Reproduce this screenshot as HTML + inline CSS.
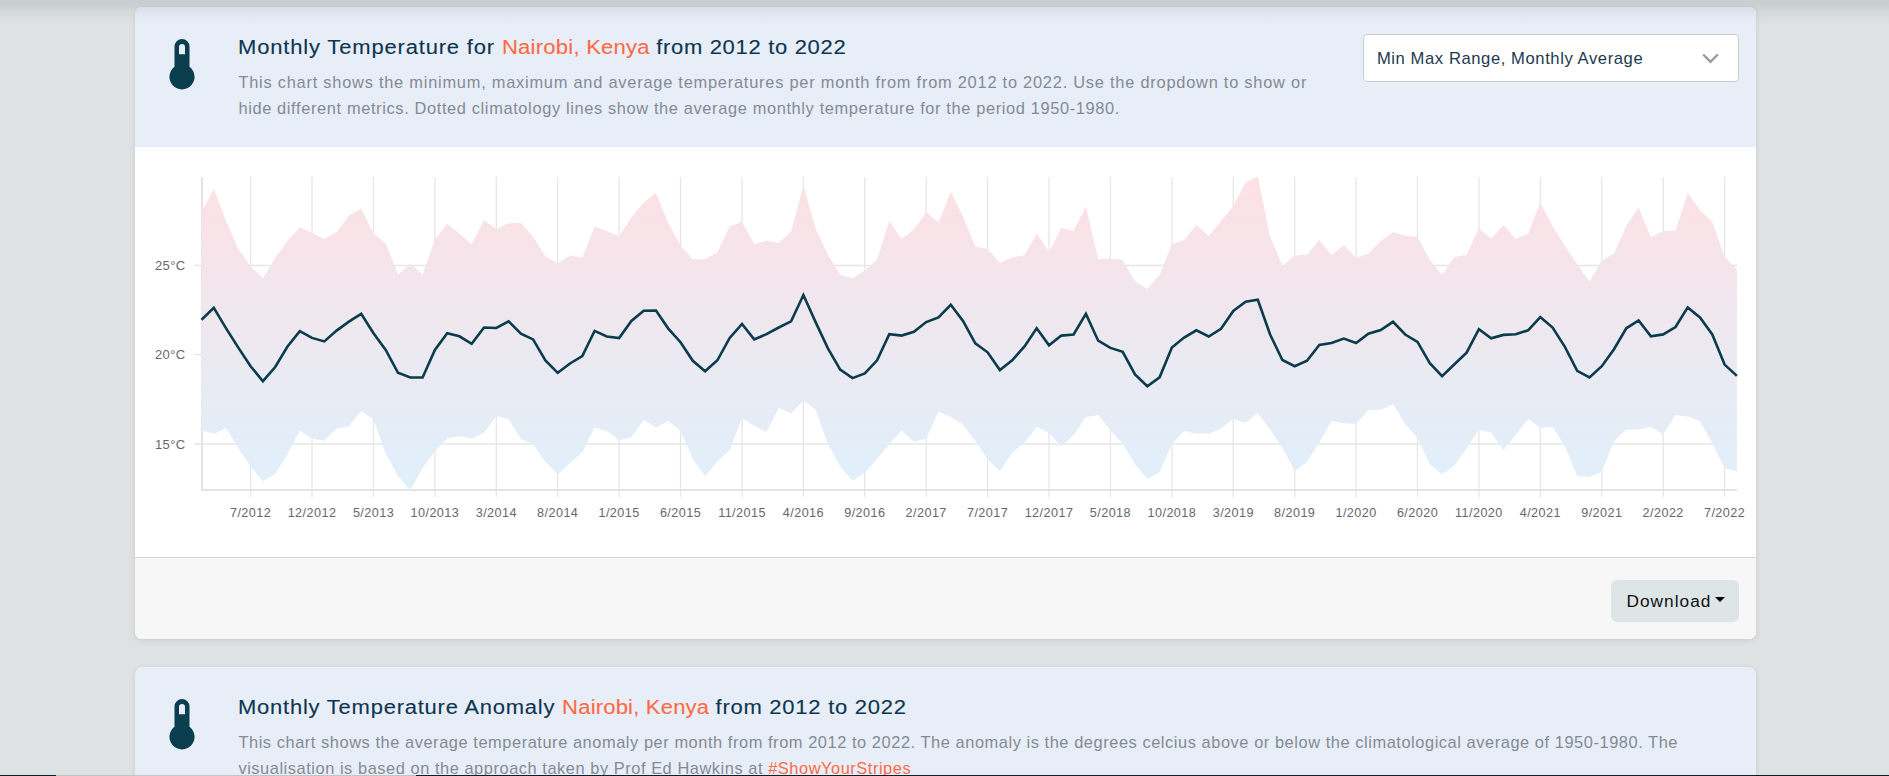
<!DOCTYPE html>
<html><head><meta charset="utf-8"><title>Monthly Temperature</title>
<style>
html,body{margin:0;padding:0}
body{width:1889px;height:776px;overflow:hidden;background:#dfe2e3;position:relative;font-family:"Liberation Sans",Arial,sans-serif}
.topshadow{position:absolute;left:0;top:0;width:1889px;height:26px;z-index:5;background:linear-gradient(rgba(0,30,40,0.10) 0px,rgba(0,30,40,0.085) 6px,rgba(0,30,40,0.045) 12px,rgba(0,30,40,0.015) 19px,rgba(0,30,40,0) 26px)}
.card{position:absolute;left:135px;width:1621px;border-radius:7px;overflow:hidden;box-shadow:0 2px 6px rgba(0,0,0,0.08),0 0 3px rgba(0,0,0,0.04)}
.c1{top:7px;height:632px;background:#fff}
.c2{top:667px;height:140px;background:#e8eef7}
.hdr{position:absolute;left:0;top:0;width:1621px;height:140px;background:#e8eef7}
.body{position:absolute;left:0;top:140px;width:1621px;height:410px;background:#fff}
.foot{position:absolute;left:0;top:550px;width:1621px;height:82px;background:#f7f7f7;border-top:1px solid #d5d5d5;box-sizing:border-box}
.t{position:absolute;font-size:20px;line-height:20px;color:#0d3550;white-space:nowrap;transform:scaleX(1.1);transform-origin:0 0;-webkit-text-stroke:0.12px #0d3550}
.t .loc{color:#fd6a45;-webkit-text-stroke:0.12px #fd6a45}
.d{position:absolute;font-size:16.4px;line-height:16.4px;color:#848a95;white-space:nowrap}
.d a{color:#fd6a45;text-decoration:none}
.sel{position:absolute;left:1227.5px;top:27.2px;width:376px;height:48.3px;box-sizing:border-box;background:#fff;border:1px solid #cacdd0;border-radius:4px}
.sel span{position:absolute;left:13.4px;top:1.9px;font-size:16.6px;line-height:16.6px;color:#1d3a4c;white-space:nowrap;letter-spacing:0.586px;top:15.85px}
.sel svg{position:absolute;left:338.3px;top:17.5px}
.btn{position:absolute;left:1476px;top:22px;width:128px;height:42px;border-radius:6px;background:#dee5e7}
.btn span{position:absolute;left:15.5px;top:12.66px;font-size:17.3px;line-height:17.3px;color:#111;letter-spacing:1.0px}
.btn i{position:absolute;left:104px;top:17px;width:0;height:0;border-left:5px solid transparent;border-right:5px solid transparent;border-top:5px solid #000}
.chart{position:absolute;left:0;top:0}
.botbar{position:absolute;left:0;top:775px;width:1889px;height:1px;background:#0f1e28}
.botbar2{position:absolute;left:56px;top:775px;width:360px;height:1px;background:#c3c5c6}
</style></head><body>
<div class="topshadow"></div>
<div class="card c1">
 <div class="hdr">
  <svg class="therm" style="position:absolute;left:34px;top:32px" width="26" height="51" viewBox="0 0 26 51">
<path fill="#0a3d4e" fill-rule="evenodd" d="M5.5,7.5 A7.5,7.5 0 0 1 20.5,7.5 V27.8 A12.55,12.55 0 1 1 5.5,27.8 Z M10,8 A3,3 0 0 1 16,8 V15.3 H10 Z"/></svg>
  <div class="t" style="left:103px;top:30.07px;letter-spacing:0.62px;"><span style="letter-spacing:0.75px">Monthly Temperature for </span><span class="loc" style="letter-spacing:0.23px">Nairobi, Kenya </span>from 2012 to 2022</div>
  <div class="d" style="left:103.4px;top:67.12px;letter-spacing:0.765px;">This chart shows the minimum, maximum and average temperatures per month from from 2012 to 2022. Use the dropdown to show or</div>
  <div class="d" style="left:103.4px;top:92.82px;letter-spacing:0.632px;">hide different metrics. Dotted climatology lines show the average monthly temperature for the period 1950-1980.</div>
  <div class="sel"><span>Min Max Range, Monthly Average</span><svg width="18" height="11" viewBox="0 0 18 11"><path d="M1.2,1.5 L8.5,8.8 L15.8,1.5" fill="none" stroke="#999" stroke-width="2.4"/></svg></div>
 </div>
 <div class="body"></div>
 <div class="foot"><div class="btn"><span>Download</span><i></i></div></div>
</div>
<div class="card c2">
  <svg class="therm" style="position:absolute;left:34px;top:32px" width="26" height="51" viewBox="0 0 26 51">
<path fill="#0a3d4e" fill-rule="evenodd" d="M5.5,7.5 A7.5,7.5 0 0 1 20.5,7.5 V27.8 A12.55,12.55 0 1 1 5.5,27.8 Z M10,8 A3,3 0 0 1 16,8 V15.3 H10 Z"/></svg>
  <div class="t" style="left:103px;top:29.67px;letter-spacing:0.68px;"><span style="letter-spacing:0.69px">Monthly Temperature Anomaly </span><span class="loc" style="letter-spacing:0.18px">Nairobi, Kenya </span>from 2012 to 2022</div>
  <div class="d" style="left:103.4px;top:67.12px;letter-spacing:0.56px;">This chart shows the average temperature anomaly per month from from 2012 to 2022. The anomaly is the degrees celcius above or below the climatological average of 1950-1980. The</div>
  <div class="d" style="left:103.4px;top:93.12px;letter-spacing:0.55px;">visualisation is based on the approach taken by Prof Ed Hawkins at <a>#ShowYourStripes</a></div>
</div>
<svg class="chart" width="1889" height="776" viewBox="0 0 1889 776">
<defs><linearGradient id="g" x1="0" y1="177" x2="0" y2="491" gradientUnits="userSpaceOnUse">
<stop offset="0" stop-color="#fde0e4"/><stop offset="0.55" stop-color="#ece9f1"/><stop offset="1" stop-color="#dff0fb"/></linearGradient></defs>
<g stroke="#e6e6e6" stroke-width="1.3" fill="none"><line x1="250.6" y1="177" x2="250.6" y2="497"/><line x1="312" y1="177" x2="312" y2="497"/><line x1="373.5" y1="177" x2="373.5" y2="497"/><line x1="434.9" y1="177" x2="434.9" y2="497"/><line x1="496.3" y1="177" x2="496.3" y2="497"/><line x1="557.7" y1="177" x2="557.7" y2="497"/><line x1="619.1" y1="177" x2="619.1" y2="497"/><line x1="680.5" y1="177" x2="680.5" y2="497"/><line x1="742" y1="177" x2="742" y2="497"/><line x1="803.4" y1="177" x2="803.4" y2="497"/><line x1="864.8" y1="177" x2="864.8" y2="497"/><line x1="926.2" y1="177" x2="926.2" y2="497"/><line x1="987.6" y1="177" x2="987.6" y2="497"/><line x1="1049" y1="177" x2="1049" y2="497"/><line x1="1110.4" y1="177" x2="1110.4" y2="497"/><line x1="1171.9" y1="177" x2="1171.9" y2="497"/><line x1="1233.3" y1="177" x2="1233.3" y2="497"/><line x1="1294.7" y1="177" x2="1294.7" y2="497"/><line x1="1356.1" y1="177" x2="1356.1" y2="497"/><line x1="1417.5" y1="177" x2="1417.5" y2="497"/><line x1="1478.9" y1="177" x2="1478.9" y2="497"/><line x1="1540.3" y1="177" x2="1540.3" y2="497"/><line x1="1601.8" y1="177" x2="1601.8" y2="497"/><line x1="1663.2" y1="177" x2="1663.2" y2="497"/><line x1="1724.6" y1="177" x2="1724.6" y2="497"/><line x1="194.5" y1="265.5" x2="1737" y2="265.5"/><line x1="194.5" y1="354.7" x2="1737" y2="354.7"/><line x1="194.5" y1="444.0" x2="1737" y2="444.0"/></g>
<path d="M202,177 V490 H1737" stroke="#e3e3e3" stroke-width="2" fill="none"/>
<path d="M201.5,211.7 L213.8,188.9 L226.1,221 L238.3,248.9 L250.6,266.2 L262.9,278.2 L275.2,258.1 L287.5,241.1 L299.8,227.2 L312,233.1 L324.3,239.1 L336.6,232.2 L348.9,215.6 L361.2,208.7 L373.5,233.4 L385.7,243.4 L398,274.4 L410.3,263.8 L422.6,274.4 L434.9,239.6 L447.2,224.1 L459.4,233.4 L471.7,244.2 L484,220.2 L496.3,229.1 L508.6,223.3 L520.9,222.9 L533.1,236.5 L545.4,256.3 L557.7,263.5 L570,255.5 L582.3,257.8 L594.6,226.4 L606.8,231.1 L619.1,236.2 L631.4,217.2 L643.7,202.5 L656,192.9 L668.3,222.9 L680.5,245.8 L692.8,259.2 L705.1,259.2 L717.4,252.4 L729.7,226.4 L742,221.8 L754.2,244.2 L766.5,240.7 L778.8,243 L791.1,231.4 L803.4,185.5 L815.6,228.8 L827.9,254.7 L840.2,274.7 L852.5,278.2 L864.8,270.5 L877.1,259.4 L889.3,221 L901.6,239.1 L913.9,229.5 L926.2,212.5 L938.5,222.3 L950.8,192 L963,216.4 L975.3,246.8 L987.6,248.9 L999.9,263.1 L1012.2,257.4 L1024.5,255.3 L1036.7,233.4 L1049,251.9 L1061.3,227.7 L1073.6,231.1 L1085.9,206.6 L1098.2,259.2 L1110.4,258.4 L1122.7,259.7 L1135,281.3 L1147.3,289 L1159.6,274.8 L1171.9,244.5 L1184.1,239.9 L1196.4,224.9 L1208.7,236.2 L1221,221 L1233.3,206.3 L1245.6,182.4 L1257.8,176.5 L1270.1,236.5 L1282.4,265.9 L1294.7,255.5 L1307,254.7 L1319.3,240 L1331.5,255 L1343.8,245.3 L1356.1,257.7 L1368.4,253.5 L1380.7,241.1 L1393,232.2 L1405.2,235.7 L1417.5,236.9 L1429.8,259.7 L1442.1,274.8 L1454.4,257 L1466.6,254.7 L1478.9,228.4 L1491.2,238.5 L1503.5,224.9 L1515.8,239.1 L1528.1,233.7 L1540.3,202.5 L1552.6,226.4 L1564.9,245.8 L1577.2,264.3 L1589.5,281.3 L1601.8,260.4 L1614,253.2 L1626.3,226 L1638.6,207.4 L1650.9,237.3 L1663.2,231.1 L1675.5,230.8 L1687.7,192.9 L1700,210.2 L1712.3,221.8 L1724.6,256.6 L1736.9,269.7 L1736.9,471.2 L1724.6,468.1 L1712.3,443.4 L1700,421 L1687.7,416.6 L1675.5,415.2 L1663.2,434.4 L1650.9,426.8 L1638.6,429.5 L1626.3,429.5 L1614,441.1 L1601.8,472 L1589.5,477.1 L1577.2,475.9 L1564.9,446.5 L1552.6,426.8 L1540.3,427.9 L1528.1,418.7 L1515.8,434.9 L1503.5,449.9 L1491.2,432.6 L1478.9,429.8 L1466.6,448 L1454.4,465.8 L1442.1,474.3 L1429.8,464.3 L1417.5,438 L1405.2,424.1 L1393,404 L1380.7,410.1 L1368.4,410.1 L1356.1,423.8 L1343.8,423.3 L1331.5,421 L1319.3,442.6 L1307,461.9 L1294.7,470.9 L1282.4,448 L1270.1,429.5 L1257.8,413.2 L1245.6,422.8 L1233.3,419.1 L1221,428.4 L1208.7,433.8 L1196.4,433.6 L1184.1,431 L1171.9,444.2 L1159.6,472 L1147.3,478.9 L1135,464.3 L1122.7,443.4 L1110.4,430.2 L1098.2,415.3 L1085.9,417.1 L1073.6,434.9 L1061.3,446.5 L1049,433 L1036.7,426.8 L1024.5,442.6 L1012.2,452.7 L999.9,471.5 L987.6,459.2 L975.3,440.8 L963,425.1 L950.8,417.1 L938.5,411.7 L926.2,438.8 L913.9,441.8 L901.6,430.7 L889.3,444.2 L877.1,458.9 L864.8,472.8 L852.5,480.5 L840.2,466.6 L827.9,444.2 L815.6,409.8 L803.4,400.6 L791.1,413.5 L778.8,408.1 L766.5,432.1 L754.2,425.9 L742,417.9 L729.7,450.3 L717.4,461.2 L705.1,476.6 L692.8,458.9 L680.5,431 L668.3,421 L656,427.6 L643.7,419.9 L631.4,437.2 L619.1,440.3 L606.8,431 L594.6,427.6 L582.3,452.2 L570,463 L557.7,474.3 L545.4,461.9 L533.1,444.2 L520.9,438.8 L508.6,419.4 L496.3,416 L484,432.6 L471.7,438.8 L459.4,436.1 L447.2,438.4 L434.9,451.4 L422.6,468.1 L410.3,490.5 L398,476.2 L385.7,453.4 L373.5,419.4 L361.2,410.9 L348.9,426.4 L336.6,428.4 L324.3,440.8 L312,438.4 L299.8,431 L287.5,453.9 L275.2,474.3 L262.9,481.3 L250.6,466.6 L238.3,448 L226.1,427.9 L213.8,434.1 L201.5,430.2 Z" fill="url(#g)"/>
<path d="M201.5,319.8 L213.8,307.9 L226.1,328.3 L238.3,347.6 L250.6,366.2 L262.9,381.2 L275.2,367 L287.5,346.5 L299.8,331.1 L312,337.9 L324.3,341.4 L336.6,330.6 L348.9,321.6 L361.2,313.9 L373.5,333.2 L385.7,349.9 L398,372.8 L410.3,377.5 L422.6,377.5 L434.9,349.9 L447.2,333.2 L459.4,336.3 L471.7,343.8 L484,327.5 L496.3,328 L508.6,321.3 L520.9,333.7 L533.1,339.4 L545.4,360.4 L557.7,372.8 L570,363.5 L582.3,356.1 L594.6,330.9 L606.8,336.5 L619.1,338 L631.4,320.9 L643.7,310.8 L656,310.5 L668.3,328.6 L680.5,342.2 L692.8,360.8 L705.1,371.3 L717.4,360.3 L729.7,337.9 L742,324 L754.2,339.4 L766.5,334.2 L778.8,327.5 L791.1,321.3 L803.4,295 L815.6,322.1 L827.9,348.4 L840.2,369.6 L852.5,378.1 L864.8,373.4 L877.1,360.3 L889.3,334.2 L901.6,335.6 L913.9,331.8 L926.2,322.1 L938.5,317.5 L950.8,304.8 L963,320.9 L975.3,343.4 L987.6,352.3 L999.9,370 L1012.2,360.3 L1024.5,346.4 L1036.7,328.3 L1049,345.3 L1061.3,335.6 L1073.6,334.5 L1085.9,313.9 L1098.2,340.7 L1110.4,347.9 L1122.7,351.8 L1135,374.4 L1147.3,386.3 L1159.6,377.3 L1171.9,347.6 L1184.1,337.6 L1196.4,330.3 L1208.7,336.5 L1221,328.8 L1233.3,311 L1245.6,301.7 L1257.8,299.7 L1270.1,334.5 L1282.4,360 L1294.7,366.2 L1307,360.8 L1319.3,345 L1331.5,343 L1343.8,338.6 L1356.1,343 L1368.4,333.7 L1380.7,330.1 L1393,321.8 L1405.2,334.5 L1417.5,341.9 L1429.8,363.1 L1442.1,376.2 L1454.4,364.2 L1466.6,352.6 L1478.9,329.1 L1491.2,338.3 L1503.5,334.9 L1515.8,334.2 L1528.1,330.3 L1540.3,317 L1552.6,327.5 L1564.9,346.8 L1577.2,370.8 L1589.5,377.5 L1601.8,366.2 L1614,349.2 L1626.3,328.3 L1638.6,320.4 L1650.9,336.3 L1663.2,334.4 L1675.5,327 L1687.7,307.4 L1700,317.5 L1712.3,334.5 L1724.6,364.6 L1736.9,375.9" fill="none" stroke="#0b3c4d" stroke-width="2.6" stroke-linejoin="miter"/>
<g font-family="Liberation Sans, sans-serif" font-size="12.6" fill="#66666e" text-anchor="middle" letter-spacing="0.45"><text x="250.6" y="517">7/2012</text><text x="312" y="517">12/2012</text><text x="373.5" y="517">5/2013</text><text x="434.9" y="517">10/2013</text><text x="496.3" y="517">3/2014</text><text x="557.7" y="517">8/2014</text><text x="619.1" y="517">1/2015</text><text x="680.5" y="517">6/2015</text><text x="742" y="517">11/2015</text><text x="803.4" y="517">4/2016</text><text x="864.8" y="517">9/2016</text><text x="926.2" y="517">2/2017</text><text x="987.6" y="517">7/2017</text><text x="1049" y="517">12/2017</text><text x="1110.4" y="517">5/2018</text><text x="1171.9" y="517">10/2018</text><text x="1233.3" y="517">3/2019</text><text x="1294.7" y="517">8/2019</text><text x="1356.1" y="517">1/2020</text><text x="1417.5" y="517">6/2020</text><text x="1478.9" y="517">11/2020</text><text x="1540.3" y="517">4/2021</text><text x="1601.8" y="517">9/2021</text><text x="1663.2" y="517">2/2022</text><text x="1724.6" y="517">7/2022</text></g>
<g font-family="Liberation Sans, sans-serif" font-size="13" fill="#66666e" text-anchor="end" letter-spacing="0.4"><text x="185.6" y="270">25°C</text><text x="185.6" y="359.2">20°C</text><text x="185.6" y="448.5">15°C</text></g>
</svg>
<div class="botbar"></div><div class="botbar2"></div>
</body></html>
